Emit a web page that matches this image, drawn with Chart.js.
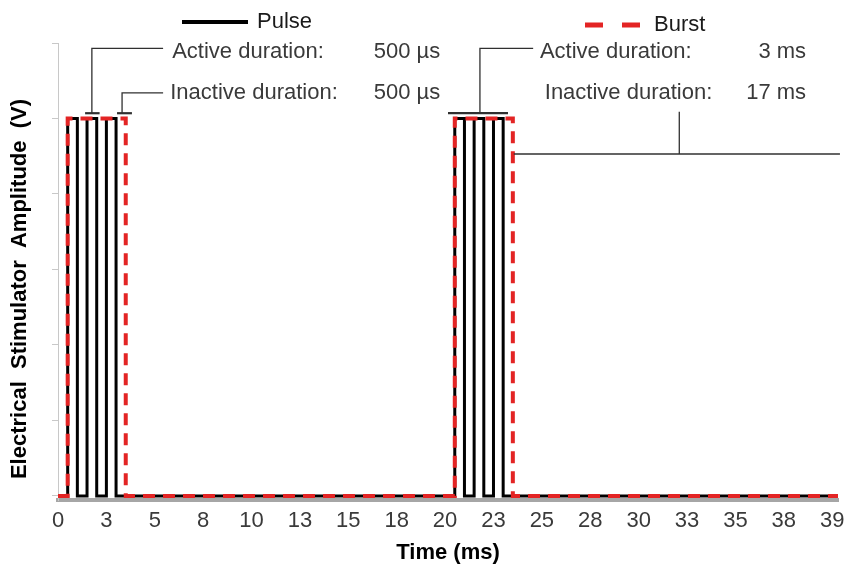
<!DOCTYPE html>
<html>
<head>
  <title>Pulse and Burst Stimulation</title>
  <script src="https://cdn.jsdelivr.net/npm/chart.js"></script>
  <style>
    html, body { margin: 0; padding: 0; background: #fff; }
    canvas { display: block; }
  </style>
</head>
<body>
  <canvas id="waveChart" width="846" height="572"></canvas>

  <script>
    // square waves: each point gives the level from that time (ms) onward
    const pulseTimes  = [0, 0.5, 1.0, 1.5, 2.0, 2.5, 3.0, 20.5, 21.0, 21.5, 22.0, 22.5, 23.0, 40.3];
    const pulseLevels = [0, 5, 0, 5, 0, 5, 0, 5, 0, 5, 0, 5, 0, 0];
    const burstTimes  = [0, 0.5, 3.5, 20.5, 23.5, 40.3];
    const burstLevels = [0, 5, 0, 5, 0, 0];

    // x ticks (ms) and the rounded labels printed under them
    const tickValues = [0, 2.5, 5, 7.5, 10, 12.5, 15, 17.5, 20, 22.5, 25, 27.5, 30, 32.5, 35, 37.5, 40];
    const tickLabels = ['0', '3', '5', '8', '10', '13', '15', '18', '20', '23', '25', '28', '30', '33', '35', '38', '39'];
    const yTicks = [0, 1, 2, 3, 4, 5, 6];

    // leader lines for the duration callouts, in [ms, V]
    const calloutLines = [
      { w: 2.2, pts: [[1.4, 5.07], [2.15, 5.07]] },
      { w: 1.3, pts: [[1.75, 5.07], [1.75, 5.93], [5.43, 5.93]] },
      { w: 2.2, pts: [[3.05, 5.07], [3.82, 5.07]] },
      { w: 1.3, pts: [[3.31, 5.07], [3.31, 5.34], [5.43, 5.34]] },
      { w: 2.2, pts: [[20.15, 5.07], [23.25, 5.07]] },
      { w: 1.3, pts: [[21.8, 5.07], [21.8, 5.93], [24.55, 5.93]] },
      { w: 1.3, pts: [[32.1, 5.09], [32.1, 4.53]] },
      { w: 1.3, pts: [[23.55, 4.53], [40.4, 4.53]] }
    ];
    const calloutText = [
      { label: 'Active duration:', value: '500 µs', x: 5.9, xr: 19.75, y: 5.88 },
      { label: 'Inactive duration:', value: '500 µs', x: 5.8, xr: 19.75, y: 5.34 },
      { label: 'Active duration:', value: '3 ms', x: 24.9, xr: 38.65, y: 5.88 },
      { label: 'Inactive duration:', value: '17 ms', x: 25.15, xr: 38.65, y: 5.34 }
    ];

    const RED = '#e32424';
    const FONT = "'Liberation Sans', Arial, sans-serif";
    Chart.defaults.font.family = FONT;

    const toPoints = (xs, ys) => xs.map((t, i) => ({ x: t, y: ys[i] }));

    const decorations = {
      id: 'decorations',
      afterDraw(chart) {
        const { ctx, scales: { x, y } } = chart;
        ctx.save();

        // callout leaders
        ctx.strokeStyle = '#303030';
        ctx.lineCap = 'butt';
        calloutLines.forEach(line => {
          ctx.lineWidth = line.w;
          ctx.beginPath();
          line.pts.forEach(([t, v], i) => {
            const px = x.getPixelForValue(t), py = y.getPixelForValue(v);
            if (i === 0) ctx.moveTo(px, py); else ctx.lineTo(px, py);
          });
          ctx.stroke();
        });

        // callout texts, values right-aligned in a column
        ctx.font = '22px ' + FONT;
        ctx.fillStyle = '#3a3a3a';
        ctx.textBaseline = 'middle';
        calloutText.forEach(c => {
          const py = y.getPixelForValue(c.y);
          ctx.textAlign = 'left';
          ctx.fillText(c.label, x.getPixelForValue(c.x), py);
          ctx.textAlign = 'right';
          ctx.fillText(c.value, x.getPixelForValue(c.xr), py);
        });

        // legend
        ctx.textAlign = 'left';
        ctx.fillStyle = '#1a1a1a';
        ctx.strokeStyle = '#000';
        ctx.lineWidth = 4;
        ctx.beginPath();
        ctx.moveTo(182, 22);
        ctx.lineTo(248, 22);
        ctx.stroke();
        ctx.fillText('Pulse', 257, 22);

        ctx.strokeStyle = RED;
        ctx.lineWidth = 5;
        ctx.setLineDash([18, 19]);
        ctx.beginPath();
        ctx.moveTo(585, 25);
        ctx.lineTo(640, 25);
        ctx.stroke();
        ctx.setLineDash([]);
        ctx.fillText('Burst', 654, 25);

        // y axis title
        ctx.translate(20, 289);
        ctx.rotate(-Math.PI / 2);
        ctx.textAlign = 'center';
        ctx.fillStyle = '#000';
        ctx.font = 'bold 22px ' + FONT;
        ctx.fillText('Electrical  Stimulator  Amplitude  (V)', 0, 0);

        ctx.restore();
      }
    };

    new Chart(document.getElementById('waveChart'), {
      type: 'line',
      data: {
        datasets: [
          {
            label: 'Pulse',
            data: toPoints(pulseTimes, pulseLevels),
            borderColor: '#000',
            borderWidth: 3,
            stepped: 'before',
            pointRadius: 0,
            order: 1
          },
          {
            label: 'Burst',
            data: toPoints(burstTimes, burstLevels),
            borderColor: RED,
            borderWidth: 4,
            borderDash: [12, 8],
            stepped: 'before',
            pointRadius: 0,
            order: 0
          }
        ]
      },
      options: {
        responsive: false,
        animation: false,
        layout: { padding: { top: 43, right: 8, left: 0, bottom: 0 } },
        plugins: {
          legend: { display: false },
          tooltip: { enabled: false }
        },
        scales: {
          x: {
            type: 'linear',
            min: 0,
            max: 40.3,
            afterBuildTicks: s => { s.ticks = tickValues.map(v => ({ value: v })); },
            afterFit: s => {
              s.height = 72;
              s.paddingLeft = 0;
              s.paddingRight = 0;
            },
            grid: { display: false, drawTicks: false },
            border: { color: '#a6a6a6', width: 4 },
            ticks: {
              autoSkip: false,
              maxRotation: 0,
              padding: 8,
              color: '#3a3a3a',
              font: { size: 22 },
              callback: (v, i) => tickLabels[i]
            },
            title: {
              display: true,
              text: 'Time (ms)',
              color: '#000',
              font: { size: 22, weight: 'bold' },
              padding: { top: 0, bottom: 6 }
            }
          },
          y: {
            min: -0.053,
            max: 6,
            afterBuildTicks: s => { s.ticks = yTicks.map(v => ({ value: v })); },
            afterFit: s => { s.width = 58; },
            ticks: { display: false },
            grid: { drawOnChartArea: false, drawTicks: true, tickLength: 6, color: '#c8c8c8' },
            border: { color: '#c8c8c8', width: 1 }
          }
        }
      },
      plugins: [decorations]
    });
  </script>
</body>
</html>
